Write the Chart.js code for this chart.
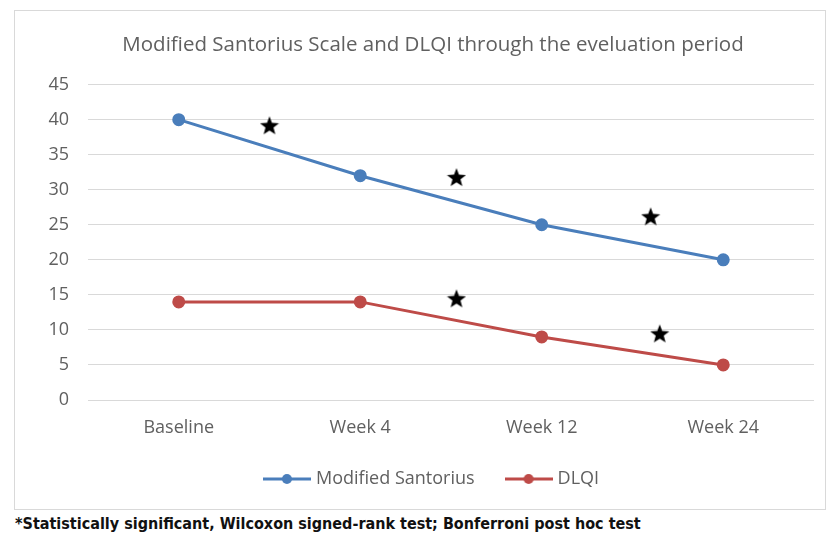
<!DOCTYPE html>
<html>
<head>
<meta charset="utf-8">
<script src="https://cdn.jsdelivr.net/npm/chart.js@4.4.0/dist/chart.umd.min.js"></script>
<style>
  body { margin: 0; background: #fff; }
  #frame { position: absolute; left: 14px; top: 10px; width: 810px; height: 498px; border: 1px solid #d9d9d9; }
  #note { position: absolute; left: 15px; top: 514px; font-family: "DejaVu Sans Condensed", "DejaVu Sans"; font-weight: bold; font-size: 16px; color: #111; }
</style>
</head>
<body>
<div id="frame"><canvas id="chart_eval" width="810" height="498"></canvas></div>
<div id="note">*Statistically significant, Wilcoxon signed-rank test; Bonferroni post hoc test</div>
<script>
// данные графика
var weeks = ['Baseline', 'Week 4', 'Week 12', 'Week 24'];
var santorius = [40, 32, 25, 20];
var dlqi = [14, 14, 9, 5];
// звездочки значимости: положение между неделями и значение
var starsX = [0.5, 1.53, 2.6, 1.53, 2.65];
var starsY = [39.2, 31.8, 26.2, 14.5, 9.5];

var blue = '#4a7ebb';
var red = '#be4b48';
var grey = '#606060';
var font = 'Open Sans';

// рисует закрашенную звезду
function makeStar(size) {
    var c = document.createElement('canvas');
    c.width = size; c.height = size;
    var g = c.getContext('2d');
    var cx = size / 2, cy = size / 2 + 1, ro = size / 2, ri = ro * 0.42;
    g.beginPath();
    for (var i = 0; i < 10; i++) {
        var r = i % 2 ? ri : ro;
        var a = -Math.PI / 2 + i * Math.PI / 5;
        g.lineTo(cx + r * Math.cos(a), cy + r * Math.sin(a));
    }
    g.closePath();
    g.fillStyle = '#000';
    g.fill();
    return c;
}

// значок легенды: линия с кружком
function makeIcon(color) {
    var c = document.createElement('canvas');
    c.width = 48; c.height = 12;
    var g = c.getContext('2d');
    g.strokeStyle = color; g.lineWidth = 3;
    g.beginPath(); g.moveTo(0, 6); g.lineTo(48, 6); g.stroke();
    g.fillStyle = color;
    g.beginPath(); g.arc(24, 6, 5, 0, Math.PI * 2); g.fill();
    return c;
}

var starImg = makeStar(20);
var stars = [];
for (var i = 0; i < starsX.length; i++) {
    stars.push({x: starsX[i], y: starsY[i]});
}

var ctx = document.getElementById('chart_eval').getContext('2d');
var chart = new Chart(ctx, {
    type: 'line',
    data: {
        labels: weeks,
        datasets: [{
            label: 'Modified Santorius',
            data: santorius,
            borderColor: blue,
            backgroundColor: blue,
            borderWidth: 3,
            pointRadius: 5,
            pointStyle: 'circle',
            legendIcon: makeIcon(blue)
        }, {
            label: 'DLQI',
            data: dlqi,
            borderColor: red,
            backgroundColor: red,
            borderWidth: 3,
            pointRadius: 5,
            pointStyle: 'circle',
            legendIcon: makeIcon(red)
        }, {
            type: 'scatter',
            label: 'stars',
            data: stars,
            xAxisID: 'x2',
            pointStyle: starImg,
            pointRadius: 10
        }]
    },
    options: {
        animation: false,
        responsive: false,
        layout: { padding: { left: 31, right: 5, top: 6, bottom: 11 } },
        plugins: {
            title: {
                display: true,
                text: 'Modified Santorius Scale and DLQI through the eveluation period',
                color: grey,
                font: { family: font, size: 20.5, weight: 'normal' },
                padding: { top: 16, bottom: 27 }
            },
            legend: {
                position: 'bottom',
                labels: {
                    usePointStyle: true,
                    pointStyleWidth: 40,
                    color: grey,
                    font: { family: font, size: 18 },
                    padding: 34,
                    filter: function (item) { return item.datasetIndex < 2; },
                    generateLabels: function (ch) {
                        var items = Chart.defaults.plugins.legend.labels.generateLabels(ch);
                        items.forEach(function (it) {
                            var ds = ch.data.datasets[it.datasetIndex];
                            if (ds.legendIcon) it.pointStyle = ds.legendIcon;
                        });
                        return items;
                    }
                }
            },
            tooltip: { enabled: false }
        },
        scales: {
            x: {
                offset: true,
                afterFit: function (s) { s.height = 36; },
                grid: { display: false },
                border: { display: false },
                ticks: { color: grey, font: { family: font, size: 18 }, padding: 9 }
            },
            x2: {
                type: 'linear',
                display: false,
                min: -0.5,
                max: 3.5
            },
            y: {
                min: 0,
                max: 45,
                afterFit: function (s) { s.width = 42; },
                ticks: { stepSize: 5, color: grey, font: { family: font, size: 18 }, padding: 19 },
                grid: { color: '#d9d9d9', drawTicks: false },
                border: { display: false }
            }
        }
    }
});
</script>
</body>
</html>
